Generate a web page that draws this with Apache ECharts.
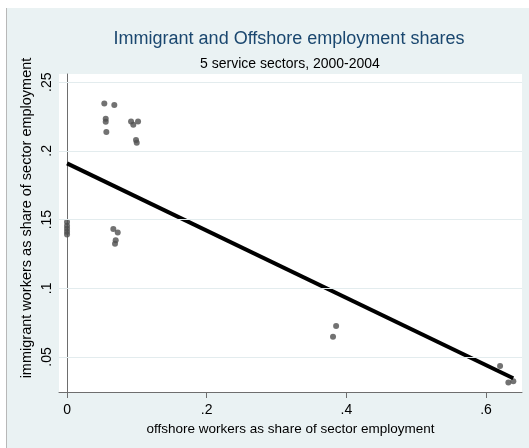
<!DOCTYPE html>
<html>
<head>
<meta charset="utf-8">
<script src="https://cdn.jsdelivr.net/npm/echarts@6/dist/echarts.min.js"></script>
<style>
  html, body { margin: 0; padding: 0; background: #ffffff; }
  #chart { width: 529px; height: 448px; }
</style>
</head>
<body>
<div id="chart"></div>
<script>
// Offshore share (x) and immigrant share (y) of sector employment, 5 service sectors 2000-2004
const offshoreShare = [
  0.000, 0.000, 0.000, 0.000, 0.000,
  0.0534, 0.0677, 0.0554, 0.0554, 0.0563,
  0.0917, 0.0949, 0.1017, 0.0988, 0.0998,
  0.0663, 0.0726, 0.0697, 0.0687,
  0.3853, 0.3809, 0.6201, 0.6320, 0.6391
];
const immigrantShare = [
  0.1482, 0.1456, 0.1434, 0.1412, 0.1391,
  0.2345, 0.2334, 0.2235, 0.2213, 0.2137,
  0.2215, 0.2191, 0.2215, 0.2079, 0.2060,
  0.1432, 0.1407, 0.1349, 0.1325,
  0.0726, 0.0648, 0.0434, 0.0315, 0.0323
];

// Linear fit, drawn across the observed range of offshore share
const fitX = [0.000, 0.639];
const fitY = [0.1909, 0.0345];

// Axis tick values
const xTicks = [0, 0.2, 0.4, 0.6];
const yTicks = [0.05, 0.1, 0.15, 0.2, 0.25];

const FONT = 'Liberation Sans, Arial, sans-serif';
const fmt = v => (v === 0 ? '0' : String(+v.toFixed(4)).replace(/^0\./, '.'));

const points = offshoreShare.map((x, i) => [x, immigrantShare[i]]);
const fitLine = fitX.map((x, i) => [x, fitY[i]]);

const chart = echarts.init(document.getElementById('chart'), null, { renderer: 'canvas' });

chart.setOption({
  backgroundColor: '#ffffff',
  animation: false,
  graphic: [
    { type: 'rect', silent: true, z: -10, shape: { x: 7, y: 8, width: 522, height: 440 }, style: { fill: '#eaf2f3' } },
    { type: 'line', silent: true, z: -9, shape: { x1: 6.5, y1: 8, x2: 6.5, y2: 448 }, style: { stroke: '#b8b8b8', lineWidth: 1 } },
    {
      // y axis title
      type: 'text', silent: true, x: 27, y: 218, rotation: Math.PI / 2,
      style: {
        text: 'immigrant workers as share of sector employment',
        font: '14.5px ' + FONT, fill: '#000',
        align: 'center', verticalAlign: 'middle'
      }
    }
  ],
  title: [
    {
      text: 'Immigrant and Offshore employment shares',
      left: 284, top: 25, textAlign: 'center',
      textStyle: { fontFamily: FONT, fontSize: 18, fontWeight: 'normal', color: '#1a476f' }
    },
    {
      text: '5 service sectors, 2000-2004',
      left: 285, top: 52, textAlign: 'center',
      textStyle: { fontFamily: FONT, fontSize: 14, fontWeight: 'normal', color: '#000000' }
    }
  ],
  grid: {
    left: 59, top: 74, right: 7, bottom: 56,
    show: true, backgroundColor: '#ffffff', borderWidth: 0
  },
  xAxis: {
    type: 'value',
    min: -0.0115, max: 0.6515,
    name: 'offshore workers as share of sector employment',
    nameLocation: 'middle', nameGap: 27,
    nameTextStyle: { fontFamily: FONT, fontSize: 13.5, color: '#000' },
    axisLine: { show: true, lineStyle: { color: '#6e6e6e', width: 1 } },
    axisTick: { show: true, length: 6, customValues: xTicks, lineStyle: { color: '#6e6e6e' } },
    axisLabel: { customValues: xTicks, formatter: fmt, margin: 11, fontFamily: FONT, fontSize: 14, color: '#000' },
    splitLine: { show: false }
  },
  yAxis: {
    type: 'value',
    min: 0.0245, max: 0.256,
    axisLine: { show: true, lineStyle: { color: '#6e6e6e', width: 1 } },
    axisTick: { show: true, length: 6, customValues: yTicks, lineStyle: { color: '#6e6e6e' } },
    axisLabel: { customValues: yTicks, formatter: fmt, rotate: 90, margin: 5, fontFamily: FONT, fontSize: 14, color: '#000' },
    splitLine: { show: false }
  },
  series: [
    {
      // horizontal grid lines at the y ticks
      type: 'line', data: [], z: 1, silent: true,
      markLine: {
        silent: true, symbol: 'none', animation: false,
        label: { show: false },
        lineStyle: { type: 'solid', color: '#e3ecee', width: 1 },
        data: yTicks.map(v => ({ yAxis: v }))
      }
    },
    {
      type: 'scatter', data: points, z: 3,
      symbol: 'circle', symbolSize: 6,
      itemStyle: { color: '#4f4f4f' }
    },
    {
      type: 'line', data: fitLine, z: 4,
      symbol: 'none',
      lineStyle: { color: '#000000', width: 4 }
    }
  ]
});
</script>
</body>
</html>
